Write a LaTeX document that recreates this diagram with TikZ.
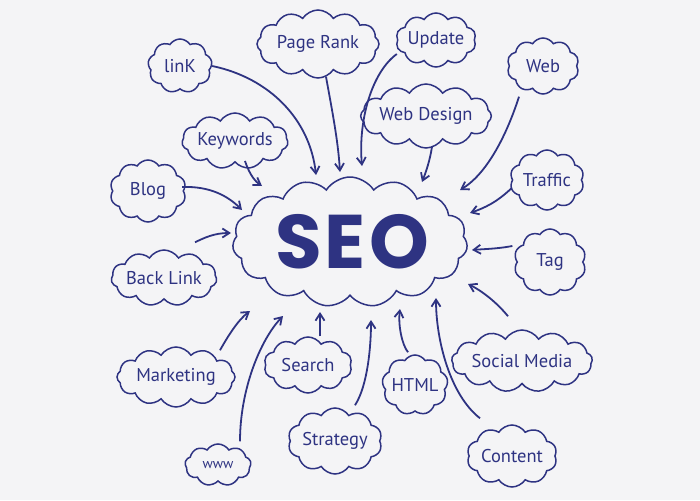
\documentclass[tikz,border=0pt]{standalone}
\usepackage{fontspec}
\setmainfont{PT Sans}
\newfontfamily\seofont{Poppins}[LetterSpace=4]
\usetikzlibrary{shapes.symbols,arrows.meta}
\definecolor{ink}{HTML}{2E3382}
\definecolor{paper}{HTML}{F4F4F6}
\tikzset{
  bub/.style={cloud, cloud puffs=#1, cloud puff arc=115, cloud ignores aspect, draw=ink, line width=1.5pt, text=ink, font=\fontsize{18.5}{19}\selectfont, inner sep=0pt},
  bub/.default=11,
  conn/.style={draw=ink, line width=1.8pt, -{Straight Barb[length=7pt,width=9pt,line width=1.8pt]}}
}
\begin{document}
\begin{tikzpicture}[x=1pt,y=-1pt]
\fill[paper] (0,0) rectangle (700,500);
\useasboundingbox (0,0) rectangle (700,500);
% center
\node[bub=15, minimum width=235pt, minimum height=130pt] (seo) at (350,242) {};
\node[text=ink, font=\seofont\bfseries\fontsize{76}{76}\selectfont] (seot) at (352,242) {SEO};
% satellites
\node[bub=9, minimum width=64pt, minimum height=54pt] (link) at (180,66) {linK};
\node[bub=12, minimum width=122pt, minimum height=68pt] (pr) at (318,44) {Page Rank};
\node[bub=10, minimum width=76pt, minimum height=54pt] (upd) at (436,40) {Update};
\node[bub=10, minimum width=72pt, minimum height=56pt] (web) at (543,66) {Web};
\node[bub=12, minimum width=122pt, minimum height=64pt] (wd) at (426,116) {Web Design};
\node[bub=11, minimum width=102pt, minimum height=56pt] (kw) at (235,141) {Keywords};
\node[bub=10, minimum width=76pt, minimum height=62pt] (blog) at (148,191) {Blog};
\node[bub=10, minimum width=74pt, minimum height=60pt] (traf) at (547,180) {Traffic};
\node[bub=10, minimum width=72pt, minimum height=66pt] (tag) at (550,262) {Tag};
\node[bub=11, minimum width=102pt, minimum height=56pt] (bl) at (164,278) {Back Link};
\node[bub=12, minimum width=118pt, minimum height=60pt] (mkt) at (176,377) {Marketing};
\node[bub=10, minimum width=88pt, minimum height=56pt] (srch) at (308,365) {Search};
\node[bub=13, minimum width=136pt, minimum height=62pt] (sm) at (522,361) {Social Media};
\node[bub=9, minimum width=64pt, minimum height=60pt] (html) at (415,385) {HTML};
\node[bub=10, minimum width=94pt, minimum height=66pt] (strat) at (335,441) {Strategy};
\node[bub=9, minimum width=66pt, minimum height=42pt, font=\fontsize{14}{15}\selectfont] (www) at (218,465) {www};
\node[bub=10, minimum width=90pt, minimum height=62pt] (cont) at (512,456) {Content};
% connectors
\coordinate (a1) at (316,175);
\coordinate (a2) at (340,172);
\coordinate (a3) at (362,166);
\coordinate (a4) at (422,182);
\coordinate (a5) at (460,190);
\coordinate (a6) at (262,186);
\coordinate (a7) at (242,210);
\coordinate (a8) at (470,213);
\coordinate (a9) at (472,250);
\coordinate (a10) at (231,233);
\coordinate (a11) at (468,284);
\coordinate (a12) at (436,298);
\coordinate (a13) at (400,309);
\coordinate (a14) at (371,320);
\coordinate (a15) at (320,312);
\coordinate (a16) at (283,316);
\coordinate (a17) at (250,311);
\draw[conn] (link.east) .. controls (270,78) and (310,120) .. (a1);
\draw[conn] (pr.south) ++(8,-2) .. controls (332,110) and (338,140) .. (a2);
\draw[conn] (upd.west) ++(0,14) .. controls (372,72) and (358,120) .. (a3);
\draw[conn] (wd.south) ++(6,-2) .. controls (430,160) and (426,172) .. (a4);
\draw[conn] (web.south) ++(-24,2) .. controls (505,140) and (485,175) .. (a5);
\draw[conn] (kw.south) ++(10,-2) .. controls (250,176) and (256,182) .. (a6);
\draw[conn] (blog.east) ++(-2,-4) .. controls (210,186) and (228,196) .. (a7);
\draw[conn] (traf.west) ++(0,8) .. controls (496,203) and (484,208) .. (a8);
\draw[conn] (tag.west) ++(-4,-16) .. controls (496,249) and (484,249) .. (a9);
\draw[conn] (bl.north) ++(31,-7) .. controls (204,238) and (214,233) .. (a10);
\draw[conn] (sm.north) ++(-14,-13) .. controls (498,304) and (484,292) .. (a11);
\draw[conn] (cont.north) ++(-32,-6) .. controls (450,395) and (436,340) .. (a12);
\draw[conn] (html.north) ++(-7,-2) .. controls (402,345) and (398,325) .. (a13);
\draw[conn] (strat.north) ++(20,-2) .. controls (368,385) and (371,345) .. (a14);
\draw[conn] (srch.north) ++(12,0) -- (a15);
\draw[conn] (www.north) ++(22,-2) .. controls (240,390) and (260,340) .. (a16);
\draw[conn] (mkt.north) ++(44,4) .. controls (228,336) and (238,320) .. (a17);
\end{tikzpicture}
\end{document}
